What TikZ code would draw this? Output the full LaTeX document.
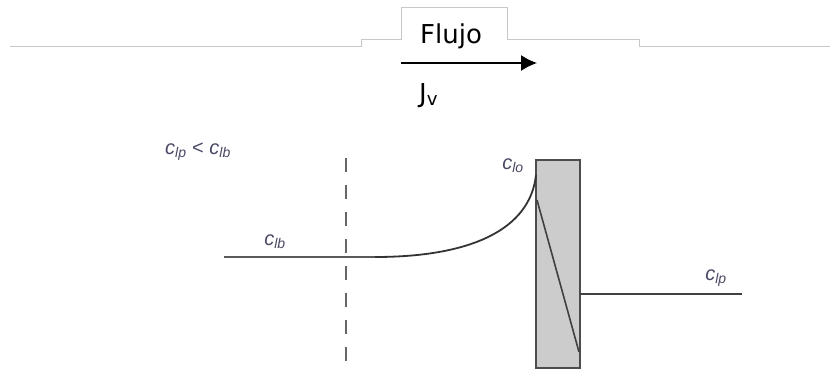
\documentclass[tikz,border=0pt]{standalone}
\usepackage{fontspec}
\usetikzlibrary{arrows.meta}
\newfontfamily\flujofont{DejaVu Sans}
\newfontfamily\labelfont{Liberation Sans}
\definecolor{labelink}{RGB}{72,72,100}
\newcommand{\conc}[1]{{\itshape c}\textsubscript{\itshape #1}}

\begin{document}
\begin{tikzpicture}[x=1pt, y=-1pt,
    flujotext/.style={font=\flujofont\fontsize{26}{30}\selectfont, inner sep=0pt},
    conclabel/.style={font=\labelfont\fontsize{20}{24}\selectfont, text=labelink, inner sep=0pt},
    profile/.style={draw=black!65, line width=1.8pt},
    membrane/.style={draw=black!70, fill=black!20, line width=1.6pt, minimum width=44pt, minimum height=208pt, inner sep=0pt}]
    \useasboundingbox (0,0) rectangle (830,372);

    % tab-shaped rule at the top
    \draw[black!22, line width=1pt] (10,46) -- (361,46) -- (361,39) -- (401,39) -- (401,7)
        -- (507,7) -- (507,39) -- (639,39) -- (639,46) -- (830,46);

    % flow
    \node[flujotext, anchor=base] (flujo) at (451,43) {Flujo};
    \coordinate (flowA) at (401,63);
    \coordinate (flowB) at (537,63);
    \draw[line width=1.4pt, -{Latex[length=16pt, width=16pt]}] (flowA) -- (flowB);
    \node[flujotext, anchor=base west] (jv) at (419,102) {J\textsubscript{v}};

    % membrane
    \node[membrane] (memb) at (558,264) {};
    \coordinate (diagTop) at (537,200);
    \coordinate (diagBot) at (579,352);
    \draw[black!75, line width=1.6pt] (diagTop) -- (diagBot);

    % concentration profile
    \coordinate (bulkStart) at (224,257);
    \coordinate (bulkEnd) at (375,257);
    \coordinate (wall) at (536,175);
    \coordinate (permStart) at (580,294);
    \coordinate (permEnd) at (742,294);
    \draw[profile] (bulkStart) -- (bulkEnd);
    \draw[black!80, line width=1.8pt] (bulkEnd) .. controls (470,257) and (530,230) .. (wall);
    \draw[black!75, line width=1.6pt] (permStart) -- (permEnd);

    % boundary layer edge
    \coordinate (layerTop) at (346,158);
    \coordinate (layerBot) at (346,363);
    \draw[black!60, line width=1.8pt, dash pattern=on 14pt off 13pt] (layerTop) -- (layerBot);

    % labels
    \node[conclabel] (ineq) at (198,152) {\conc{lp} < \conc{lb}};
    \node[conclabel] (clb) at (275,242) {\conc{lb}};
    \node[conclabel] (clo) at (513,166) {\conc{lo}};
    \node[conclabel] (clp) at (716,278) {\conc{lp}};
\end{tikzpicture}
\end{document}
